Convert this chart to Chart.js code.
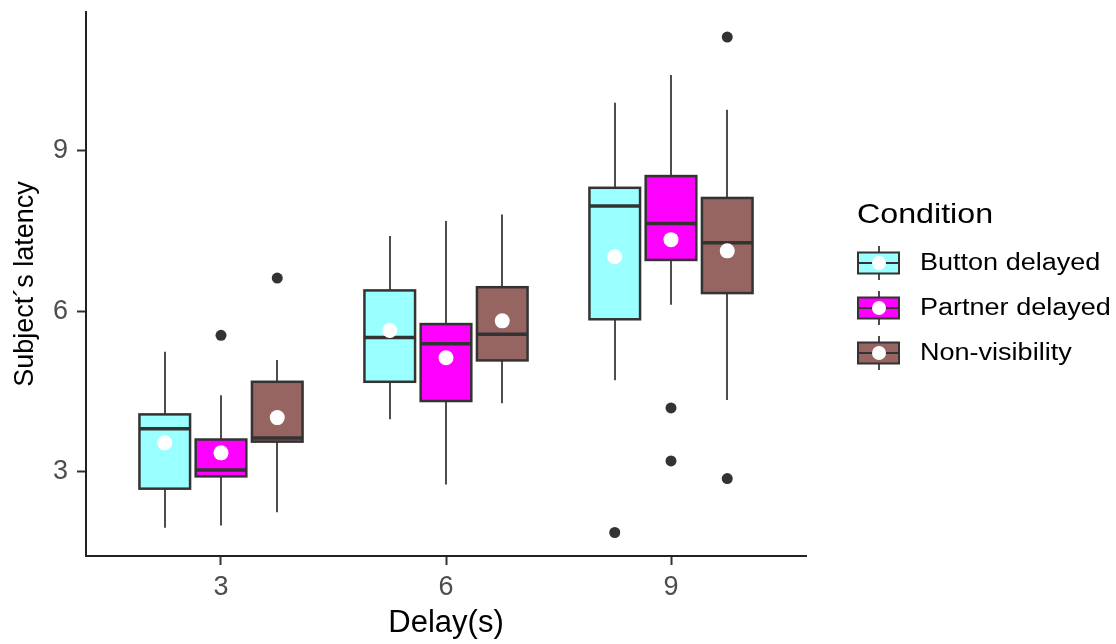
<!DOCTYPE html>
<html lang="en">
<head>
<meta charset="UTF-8">
<title>Subject's latency by delay</title>
<script src="https://cdn.jsdelivr.net/npm/chart.js@4.4.1/dist/chart.umd.min.js"></script>
<style>
    body { margin: 0; background: #fff; }
    #wrap { width: 1116px; height: 644px; }
</style>
</head>
<body>
<div id="wrap"><canvas id="latencyChart" width="1116" height="644"></canvas></div>

<script>
    const delays = ['3', '6', '9'];
    const conditions = ['Button delayed', 'Partner delayed', 'Non-visibility'];

    // per delay: [lower whisker, Q1, median, Q3, upper whisker]
    const buttonBoxes = [[1.95, 2.68, 3.80, 4.07, 5.24], [3.98, 4.68, 5.51, 6.39, 7.41], [4.71, 5.85, 7.97, 8.31, 9.90]];
    const partnerBoxes = [[1.99, 2.91, 3.03, 3.60, 4.43], [2.76, 4.32, 5.39, 5.76, 7.69], [6.12, 6.96, 7.64, 8.53, 10.42]];
    const nonVisBoxes = [[2.24, 3.56, 3.63, 4.68, 5.09], [4.28, 5.08, 5.57, 6.45, 7.81], [4.34, 6.34, 7.28, 8.12, 9.77]];

    const buttonMeans = [3.54, 5.64, 7.02];
    const partnerMeans = [3.35, 5.13, 7.34];
    const nonVisMeans = [4.01, 5.82, 7.13];

    const buttonOutliers = [[], [], [1.86]];
    const partnerOutliers = [[5.55], [], [4.19, 3.20]];
    const nonVisOutliers = [[6.62], [], [11.13, 2.87]];

    const yTicks = [3, 6, 9];

    // styling / layout
    const fills = ['#9AFFFF', '#FF00FF', '#966461'];
    const dodge = [-0.25, 0, 0.25];
    const boxWidth = 0.225;
    const FONT = '"Liberation Sans", Arial, sans-serif';

    const boxSets = [buttonBoxes, partnerBoxes, nonVisBoxes];
    const meanSets = [buttonMeans, partnerMeans, nonVisMeans];
    const outlierSets = [buttonOutliers, partnerOutliers, nonVisOutliers];

    function outlierPoints() {
        const pts = [];
        outlierSets.forEach((set, c) => {
            set.forEach((vals, i) => {
                vals.forEach(v => pts.push({ x: i + 1 + dodge[c], y: v }));
            });
        });
        return pts;
    }

    const boxPlugin = {
        id: 'boxes',
        beforeDatasetsDraw(chart) {
            const { ctx, scales: { x, y } } = chart;
            ctx.save();
            boxSets.forEach((boxes, c) => {
                boxes.forEach((b, i) => {
                    const pos = i + 1 + dodge[c];
                    const cx = Math.round(x.getPixelForValue(pos));
                    const l = x.getPixelForValue(pos - boxWidth / 2);
                    const r = x.getPixelForValue(pos + boxWidth / 2);
                    const [lo, q1, med, q3, hi] = b.map(v => y.getPixelForValue(v));

                    ctx.strokeStyle = '#4d4d4d';
                    ctx.lineWidth = 2;
                    ctx.beginPath();
                    ctx.moveTo(cx, hi); ctx.lineTo(cx, q3);
                    ctx.moveTo(cx, q1); ctx.lineTo(cx, lo);
                    ctx.stroke();

                    ctx.fillStyle = fills[c];
                    ctx.fillRect(l, q3, r - l, q1 - q3);
                    ctx.strokeStyle = '#333';
                    ctx.lineWidth = 2.5;
                    ctx.strokeRect(l, q3, r - l, q1 - q3);

                    ctx.lineWidth = 3.5;
                    ctx.beginPath();
                    ctx.moveTo(l, med); ctx.lineTo(r, med);
                    ctx.stroke();
                });
            });
            ctx.restore();
        },
        afterDraw(chart) {
            const ctx = chart.ctx;
            ctx.save();
            ctx.fillStyle = '#000';
            ctx.textAlign = 'left';
            ctx.textBaseline = 'middle';

            // legend title, slightly stretched like the source image
            ctx.save();
            ctx.translate(857, 215);
            ctx.scale(1.15, 1);
            ctx.font = '28px ' + FONT;
            ctx.fillText('Condition', 0, 0);
            ctx.restore();

            conditions.forEach((name, c) => {
                const cy = 263 + c * 45;
                const l = 858, r = 899, cx = 879;
                ctx.strokeStyle = '#4d4d4d';
                ctx.lineWidth = 2;
                ctx.beginPath();
                ctx.moveTo(cx, cy - 17); ctx.lineTo(cx, cy + 17);
                ctx.stroke();
                ctx.fillStyle = fills[c];
                ctx.fillRect(l, cy - 10.5, r - l, 21);
                ctx.strokeStyle = '#333';
                ctx.strokeRect(l, cy - 10.5, r - l, 21);
                ctx.beginPath();
                ctx.moveTo(l, cy); ctx.lineTo(r, cy);
                ctx.stroke();
                ctx.fillStyle = '#fff';
                ctx.beginPath();
                ctx.arc(cx, cy, 7, 0, Math.PI * 2);
                ctx.fill();

                ctx.save();
                ctx.translate(920, cy);
                ctx.scale(1.15, 1);
                ctx.fillStyle = '#000';
                ctx.font = '23.5px ' + FONT;
                ctx.fillText(name, 0, 1);
                ctx.restore();
            });
            ctx.restore();
        }
    };

    const datasets = [{
        label: 'outliers',
        data: outlierPoints(),
        pointRadius: 5.5,
        pointBackgroundColor: '#333',
        pointBorderWidth: 0,
        showLine: false
    }];
    meanSets.forEach((means, c) => {
        datasets.push({
            label: conditions[c] + ' mean',
            data: means.map((v, i) => ({ x: i + 1 + dodge[c], y: v })),
            pointRadius: 7.5,
            pointBackgroundColor: '#fff',
            pointBorderWidth: 0,
            showLine: false
        });
    });

    new Chart(document.getElementById('latencyChart'), {
        type: 'scatter',
        data: { datasets: datasets },
        options: {
            responsive: false,
            animation: false,
            layout: { padding: { top: 12, right: 310, left: 0, bottom: 0 } },
            plugins: { legend: { display: false }, tooltip: { enabled: false } },
            scales: {
                x: {
                    type: 'linear',
                    min: 0.4,
                    max: 3.6,
                    afterBuildTicks: s => { s.ticks = delays.map((d, i) => ({ value: i + 1 })); },
                    afterFit: s => { s.height = 88; s.paddingLeft = 0; s.paddingRight = 0; },
                    ticks: {
                        callback: v => delays[v - 1],
                        color: '#4d4d4d',
                        font: { family: FONT, size: 27 },
                        padding: 6
                    },
                    grid: { display: true, drawOnChartArea: false, drawTicks: true, tickLength: 9, tickColor: '#333', tickWidth: 2 },
                    border: { display: true, color: '#222', width: 2 },
                    title: {
                        display: true,
                        text: 'Delay(s)',
                        color: '#000',
                        font: { family: FONT, size: 31, lineHeight: 1.2 },
                        padding: { top: 0, bottom: 2 }
                    }
                },
                y: {
                    min: 1.42,
                    max: 11.6,
                    afterBuildTicks: s => { s.ticks = yTicks.map(v => ({ value: v })); },
                    afterFit: s => { s.width = 86; s.paddingTop = 0; s.paddingBottom = 0; },
                    ticks: {
                        color: '#4d4d4d',
                        font: { family: FONT, size: 27 },
                        padding: 9
                    },
                    grid: { display: true, drawOnChartArea: false, drawTicks: true, tickLength: 9, tickColor: '#333', tickWidth: 2 },
                    border: { display: true, color: '#222', width: 2 },
                    title: {
                        display: true,
                        text: 'Subject´s latency',
                        color: '#000',
                        font: { family: FONT, size: 27, lineHeight: 1.2 },
                        padding: { top: 9, bottom: 0 }
                    }
                }
            }
        },
        plugins: [boxPlugin]
    });
</script>
</body>
</html>
